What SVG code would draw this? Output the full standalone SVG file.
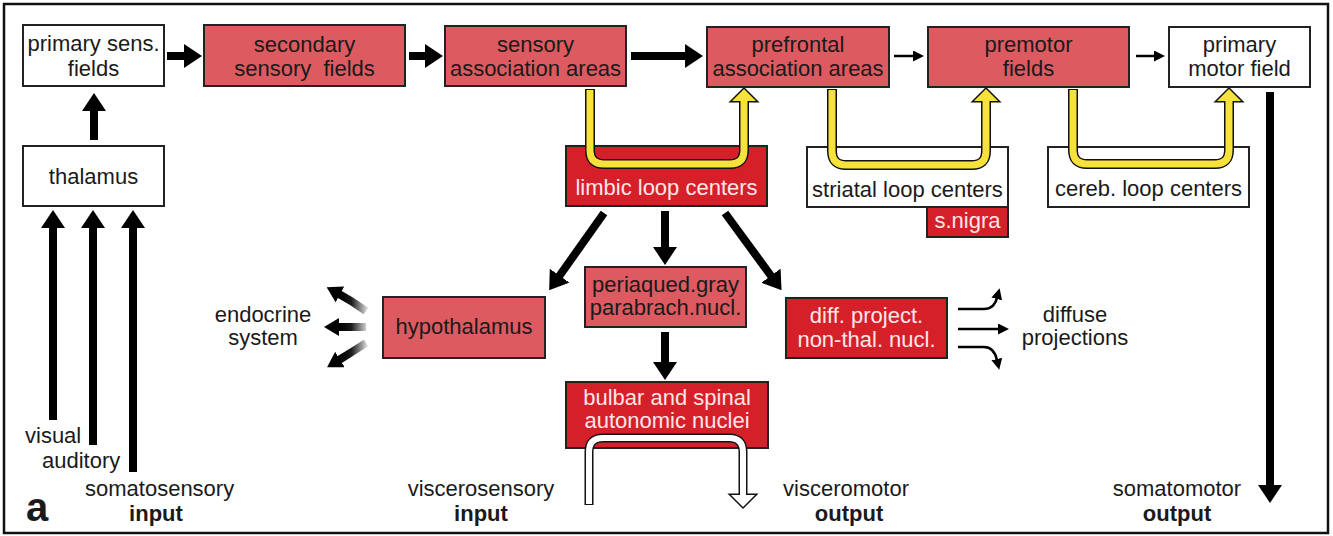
<svg xmlns="http://www.w3.org/2000/svg" width="1333" height="536" viewBox="0 0 1333 536">
<style>
text{font-family:"Liberation Sans",Arial,sans-serif;font-size:22px;fill:#1a1a1a;text-anchor:middle}
.b{font-weight:bold}
.w{fill:#fde6e6}
.box{stroke:#222;stroke-width:2}
.wh{fill:#fff}
.mr{fill:#dc5a60}
.br{fill:#d5202a}
.thick{stroke:#000;stroke-width:8;fill:none}
.thin{stroke:#000;stroke-width:2.5;fill:none}
.yo{stroke:#111;stroke-width:10;fill:none}
.yi{stroke:#f7e23c;stroke-width:7;fill:none}
.ho{stroke:#111;stroke-width:9;fill:none}
.hi{stroke:#fff;stroke-width:6;fill:none}
</style>
<defs>
<marker id="ah" markerUnits="userSpaceOnUse" markerWidth="18" markerHeight="24" refX="1" refY="12" orient="auto"><path d="M0,0 L18,12 L0,24 z" fill="#000"/></marker>
<marker id="at" markerUnits="userSpaceOnUse" markerWidth="11" markerHeight="11" refX="1" refY="5.5" orient="auto"><path d="M0,0 L11,5.5 L0,11 z" fill="#000"/></marker>
<marker id="ae" markerUnits="userSpaceOnUse" markerWidth="15" markerHeight="18" refX="1" refY="9" orient="auto"><path d="M0,0 L15,9 L0,18 z" fill="#000"/></marker>
<linearGradient id="fade" gradientUnits="userSpaceOnUse" x1="368" y1="0" x2="340" y2="0"><stop offset="0" stop-color="#000" stop-opacity="0.1"/><stop offset="0.6" stop-color="#000" stop-opacity="0.9"/><stop offset="1" stop-color="#000"/></linearGradient>
</defs>
<rect x="4" y="4" width="1324" height="529" fill="#fff" stroke="#111" stroke-width="2.5"/>

<g id="primary-sens"><rect class="box wh" x="23" y="25" width="141" height="61"/><text x="93.5" y="51">primary sens.</text><text x="93.5" y="76">fields</text></g>
<g id="secondary-sensory"><rect class="box mr" x="204" y="25" width="201" height="61"/><text x="304.5" y="52">secondary</text><text x="304.5" y="76">sensory&#160; fields</text></g>
<g id="sensory-association"><rect class="box mr" x="445" y="26" width="181" height="60"/><text x="535.5" y="52">sensory</text><text x="535.5" y="76">association areas</text></g>
<g id="prefrontal"><rect class="box mr" x="707" y="27" width="182" height="60"/><text x="798" y="52">prefrontal</text><text x="798" y="76">association areas</text></g>
<g id="premotor"><rect class="box mr" x="928" y="27" width="201" height="60"/><text x="1028.5" y="52">premotor</text><text x="1028.5" y="76">fields</text></g>
<g id="primary-motor"><rect class="box wh" x="1169" y="27" width="141" height="60"/><text x="1239.5" y="52">primary</text><text x="1239.5" y="76">motor field</text></g>
<g id="thalamus"><rect class="box wh" x="23" y="146" width="141" height="60"/><text x="93.5" y="184">thalamus</text></g>
<g id="limbic"><rect class="box br" x="566" y="146" width="201" height="60"/><text class="w" x="666.5" y="195">limbic loop centers</text></g>
<g id="striatal"><rect class="box wh" x="807" y="147" width="201" height="60"/><text x="907.5" y="197">striatal loop centers</text></g>
<g id="snigra"><rect class="box br" x="927" y="207" width="81" height="30"/><text class="w" x="967.5" y="228">s.nigra</text></g>
<g id="cereb"><rect class="box wh" x="1048" y="147" width="201" height="60"/><text x="1148.5" y="196">cereb. loop centers</text></g>
<g id="hypothalamus"><rect class="box mr" x="383" y="297" width="162" height="61"/><text x="464" y="334">hypothalamus</text></g>
<g id="periaqued"><rect class="box mr" x="585" y="267" width="161" height="60"/><text x="665.5" y="292">periaqued.gray</text><text x="665.5" y="315">parabrach.nucl.</text></g>
<g id="diffproject"><rect class="box br" x="786" y="298" width="161" height="60"/><text class="w" x="866.5" y="323">diff. project.</text><text class="w" x="866.5" y="347">non-thal. nucl.</text></g>
<g id="bulbar"><rect class="box br" x="566" y="382" width="202" height="66"/><text class="w" x="667" y="405">bulbar and spinal</text><text class="w" x="667" y="428">autonomic nuclei</text></g>

<g id="connectors">
<line class="thick" x1="167" y1="56" x2="185" y2="56" marker-end="url(#ah)"/>
<line class="thick" x1="409" y1="56" x2="426" y2="56" marker-end="url(#ah)"/>
<line class="thick" x1="631" y1="56" x2="686" y2="56" marker-end="url(#ah)"/>
<line class="thin" x1="894" y1="56" x2="914" y2="56" marker-end="url(#at)"/>
<line class="thin" x1="1136" y1="56" x2="1155" y2="56" marker-end="url(#at)"/>
<line class="thick" x1="94" y1="140" x2="94" y2="110" marker-end="url(#ah)"/>
<line class="thick" x1="53" y1="420" x2="53" y2="227" marker-end="url(#ah)"/>
<line class="thick" x1="93" y1="445" x2="93" y2="227" marker-end="url(#ah)"/>
<line class="thick" x1="133" y1="472" x2="133" y2="227" marker-end="url(#ah)"/>
<line class="thick" x1="1270" y1="92" x2="1270" y2="486" marker-end="url(#ah)"/>
<line class="thick" x1="604" y1="213" x2="559" y2="276.5" marker-end="url(#ah)"/>
<line class="thick" x1="665" y1="211" x2="665" y2="248" marker-end="url(#ah)"/>
<line class="thick" x1="725" y1="213" x2="771.5" y2="276.5" marker-end="url(#ah)"/>
<line class="thick" x1="665" y1="332" x2="665" y2="363" marker-end="url(#ah)"/>

<path d="M366,311 Q352,301 339,294" stroke="url(#fade)" stroke-width="8" fill="none" marker-end="url(#ae)"/>
<path d="M366,327 L338,327" stroke="url(#fade)" stroke-width="8" fill="none" marker-end="url(#ae)"/>
<path d="M366,343 Q352,352 339,360" stroke="url(#fade)" stroke-width="8" fill="none" marker-end="url(#ae)"/>

<path class="thin" d="M958,309 H984 Q994,309 997,298" marker-end="url(#at)"/>
<path class="thin" d="M958,329 H999" marker-end="url(#at)"/>
<path class="thin" d="M958,347 H984 Q994,347 997,360" marker-end="url(#at)"/>

<g id="limbic-loop">
<path class="yo" d="M590,89 V150 Q590,164 604,164 H730 Q744,164 744,150 V100"/>
<polygon points="732,101 744,89 756,101" fill="#111" stroke="#111" stroke-width="3"/>
<path class="yi" d="M590,90 V150 Q590,164 604,164 H730 Q744,164 744,150 V99"/>
<polygon points="732,101 744,89 756,101" fill="#f7e23c"/>
</g>
<g id="striatal-loop">
<path class="yo" d="M832,89 V151 Q832,165 846,165 H972 Q986,165 986,151 V100"/>
<polygon points="974,101 986,89 998,101" fill="#111" stroke="#111" stroke-width="3"/>
<path class="yi" d="M832,90 V151 Q832,165 846,165 H972 Q986,165 986,151 V99"/>
<polygon points="974,101 986,89 998,101" fill="#f7e23c"/>
</g>
<g id="cereb-loop">
<path class="yo" d="M1073,89 V150 Q1073,164 1087,164 H1215 Q1229,164 1229,150 V100"/>
<polygon points="1217,101 1229,89 1241,101" fill="#111" stroke="#111" stroke-width="3"/>
<path class="yi" d="M1073,90 V150 Q1073,164 1087,164 H1215 Q1229,164 1229,150 V99"/>
<polygon points="1217,101 1229,89 1241,101" fill="#f7e23c"/>
</g>
<g id="visceral-loop">
<path class="ho" d="M589,505 V452 Q589,438 603,438 H729 Q743,438 743,452 V496"/>
<polygon points="731,495 743,507 755,495" fill="#111" stroke="#111" stroke-width="3"/>
<path class="hi" d="M589,504 V452 Q589,438 603,438 H729 Q743,438 743,452 V497"/>
<polygon points="731,495 743,507 755,495" fill="#fff"/>
</g>
</g>

<g id="labels">
<text x="263" y="322">endocrine</text><text x="263" y="345">system</text>
<text x="1075" y="322">diffuse</text><text x="1075" y="345">projections</text>
<text x="25" y="443" style="text-anchor:start">visual</text>
<text x="42" y="468" style="text-anchor:start">auditory</text>
<text x="85" y="496" style="text-anchor:start">somatosensory</text>
<text class="b" x="156" y="521">input</text>
<text class="b" x="37" y="521" style="font-size:40px">a</text>
<text x="481" y="496">viscerosensory</text>
<text class="b" x="481" y="521">input</text>
<text x="846" y="496">visceromotor</text>
<text class="b" x="849" y="521">output</text>
<text x="1177" y="496">somatomotor</text>
<text class="b" x="1177" y="521">output</text>
</g>
</svg>
